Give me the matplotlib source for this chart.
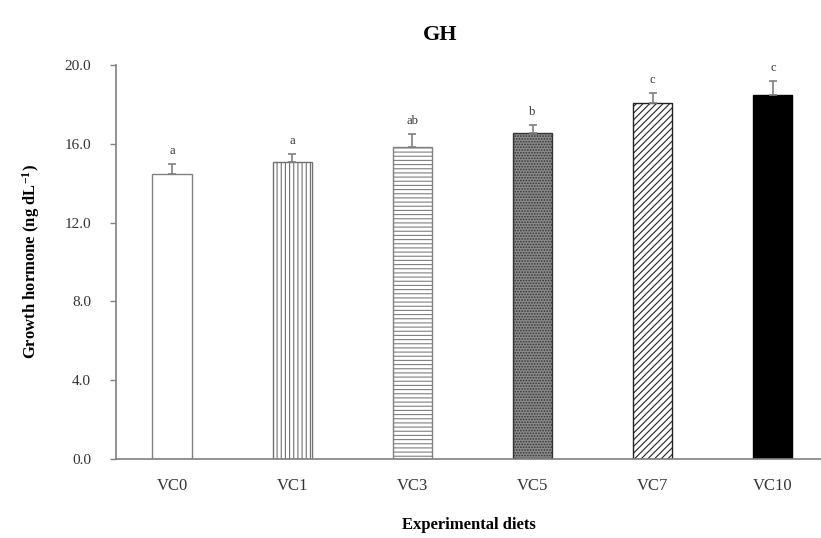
import numpy as np
import matplotlib
matplotlib.use("Agg")
import matplotlib.pyplot as plt

plt.rcParams['font.family'] = ['Liberation Serif', 'DejaVu Serif']
plt.rcParams['mathtext.fontset'] = 'custom'
plt.rcParams['mathtext.rm'] = 'Liberation Serif'
plt.rcParams['mathtext.bf'] = 'Liberation Serif:bold'
plt.rcParams['hatch.linewidth'] = 0.8

diets = ["VC0", "VC1", "VC3", "VC5", "VC7", "VC10"]
gh_mean = [14.45, 15.1, 15.85, 16.55, 18.05, 18.5]
gh_err = [0.55, 0.4, 0.65, 0.4, 0.55, 0.7]
letters = ["a", "a", "ab", "b", "c", "c"]

faces = ["white", "white", "white", "#8a8a8a", "white", "black"]
hatches = [None, "||||", "----", "......", "/////", None]
edges = ["#808080", "#707070", "#808080", "#333333", "#222222", "black"]

fig = plt.figure(figsize=(8.21, 5.38), dpi=100)
ax = fig.add_axes([0.1413, 0.1468, 0.8587, 0.7323])

x = np.arange(len(diets))
for i in range(len(diets)):
    ax.bar(x[i], gh_mean[i], width=0.325, color=faces[i], hatch=hatches[i],
           edgecolor=edges[i], linewidth=1.0, zorder=2)
    ax.errorbar(x[i], gh_mean[i], yerr=[[0], [gh_err[i]]], fmt="none",
                ecolor="#808080", elinewidth=1.2, capsize=3, capthick=1.2,
                zorder=3)
    ax.text(x[i], gh_mean[i] + gh_err[i] + 0.35, letters[i], ha="center",
            va="bottom", fontsize=9, color="#333333")

ax.set_xlim(-0.466, 5.4)
ax.set_ylim(0, 20)
ax.set_yticks(np.arange(0, 20.1, 4.0))
ax.set_yticklabels([f"{v:.1f}" for v in np.arange(0, 20.1, 4.0)])
ax.set_xticks(x)
ax.set_xticklabels(diets)
ax.tick_params(axis="x", length=0, pad=14, labelsize=12, colors="#333333")
ax.tick_params(axis="y", direction="out", length=4, width=1,
               color="#808080", labelsize=11, labelcolor="#333333", pad=14)

for s in ["top", "right"]:
    ax.spines[s].set_visible(False)
for s in ["left", "bottom"]:
    ax.spines[s].set_color("#808080")
    ax.spines[s].set_linewidth(1.2)

ax.set_ylabel(r"Growth hormone (ng dL$\mathbf{^{-1}}$)", fontsize=12,
              fontweight="bold", labelpad=16)
ax.set_xlabel("Experimental diets", fontsize=12, fontweight="bold",
              labelpad=16)
ax.set_title("GH", fontsize=16, fontweight="bold", pad=18, x=0.46)

fig.savefig("out.png", dpi=100)
